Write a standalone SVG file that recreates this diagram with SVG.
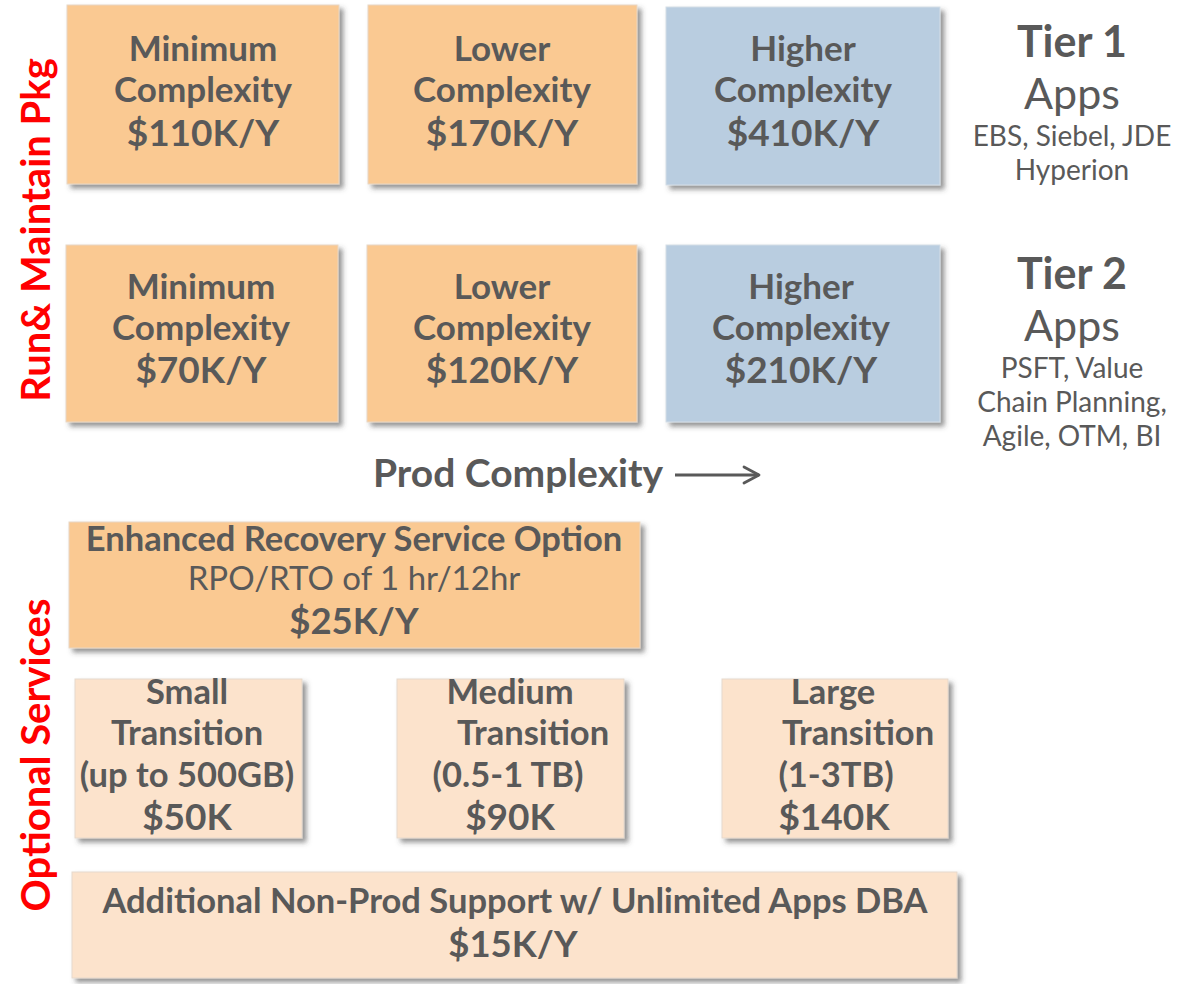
<svg xmlns="http://www.w3.org/2000/svg" width="1198" height="984" viewBox="0 0 1198 984">
  <defs>
    <filter id="shadow" x="-10%" y="-10%" width="125%" height="130%">
      <feDropShadow dx="4" dy="4" stdDeviation="2.5" flood-color="#404040" flood-opacity="0.55"/>
    </filter>
    <marker id="open-arrow" viewBox="0 0 20 20" refX="17" refY="10" markerWidth="20" markerHeight="20" markerUnits="userSpaceOnUse" orient="auto">
      <path d="M2,2 L17,10 L2,18" fill="none" stroke="#595959" stroke-width="2.8" stroke-linecap="round" stroke-linejoin="round"/>
    </marker>
  </defs>
  <style>
    text { font-family: Lato, "Open Sans", "Liberation Sans", sans-serif; fill: #595959; text-anchor: middle; }
    .b { font-weight: 700; }
    .hd { font-size: 35px; font-weight: 700; }
    .price { font-size: 37px; font-weight: 700; }
    .side { font-size: 40px; font-weight: 700; fill: #ff0000; }
    .orange { fill: #fac992; stroke: #e8d6c4; stroke-width: 1; filter: url(#shadow); }
    .blue { fill: #b9cde0; stroke: #d4dde6; stroke-width: 1; filter: url(#shadow); }
    .peach { fill: #fce3cc; stroke: #e6d9cd; stroke-width: 1; filter: url(#shadow); }
    .tier { font-size: 43px; font-weight: 700; }
    .apps { font-size: 43px; }
    .list { font-size: 28px; }
    .tr { font-size: 34.5px; font-weight: 700; }
    .trp { font-size: 37px; font-weight: 700; }
  </style>

  <rect width="1198" height="984" fill="#ffffff"/>

  <!-- side captions -->
  <g id="label-run-maintain">
    <text class="side" transform="translate(50,230) rotate(-90)">Run&amp; Maintain Pkg</text>
  </g>
  <g id="label-optional">
    <text class="side" transform="translate(50,755) rotate(-90)">Optional Services</text>
  </g>

  <!-- Tier 1 row -->
  <g id="t1-min">
    <rect class="orange" x="67" y="5" width="272" height="179"/>
    <text class="hd" x="203" y="61">Minimum</text>
    <text class="hd" x="203" y="102">Complexity</text>
    <text class="price" x="203" y="146">$110K/Y</text>
  </g>
  <g id="t1-lower">
    <rect class="orange" x="368" y="5" width="269" height="179"/>
    <text class="hd" x="502" y="61">Lower</text>
    <text class="hd" x="502" y="102">Complexity</text>
    <text class="price" x="502" y="146">$170K/Y</text>
  </g>
  <g id="t1-higher">
    <rect class="blue" x="666" y="7" width="274" height="178"/>
    <text class="hd" x="803" y="61">Higher</text>
    <text class="hd" x="803" y="102">Complexity</text>
    <text class="price" x="803" y="146">$410K/Y</text>
  </g>
  <g id="tier1">
    <text class="tier" x="1072" y="57">Tier 1</text>
    <text class="apps" x="1072" y="109">Apps</text>
    <text class="list" x="1072" y="146">EBS, Siebel, JDE</text>
    <text class="list" x="1072" y="180">Hyperion</text>
  </g>

  <!-- Tier 2 row -->
  <g id="t2-min">
    <rect class="orange" x="66" y="245" width="272" height="177"/>
    <text class="hd" x="201" y="299">Minimum</text>
    <text class="hd" x="201" y="340">Complexity</text>
    <text class="price" x="201" y="383">$70K/Y</text>
  </g>
  <g id="t2-lower">
    <rect class="orange" x="367" y="245" width="270" height="177"/>
    <text class="hd" x="502" y="299">Lower</text>
    <text class="hd" x="502" y="340">Complexity</text>
    <text class="price" x="502" y="383">$120K/Y</text>
  </g>
  <g id="t2-higher">
    <rect class="blue" x="666" y="245" width="274" height="177"/>
    <text class="hd" x="801" y="299">Higher</text>
    <text class="hd" x="801" y="340">Complexity</text>
    <text class="price" x="801" y="383">$210K/Y</text>
  </g>
  <g id="tier2">
    <text class="tier" x="1072" y="289">Tier 2</text>
    <text class="apps" x="1072" y="341">Apps</text>
    <text class="list" x="1072" y="378">PSFT, Value</text>
    <text class="list" x="1072" y="412">Chain Planning,</text>
    <text class="list" x="1072" y="446">Agile, OTM, BI</text>
  </g>

  <!-- complexity axis -->
  <g id="axis-label">
    <text class="b" x="518" y="487" style="font-size:39px">Prod Complexity</text>
  </g>
  <g id="connectors">
    <line x1="675" y1="475" x2="759" y2="475" stroke="#595959" stroke-width="2.8" marker-end="url(#open-arrow)"/>
  </g>

  <!-- optional services -->
  <g id="enhanced-recovery">
    <rect class="orange" x="69" y="522" width="571" height="126"/>
    <text class="b" x="354" y="551" style="font-size:34.5px">Enhanced Recovery Service Option</text>
    <text x="354" y="590" style="font-size:33px">RPO/RTO of 1 hr/12hr</text>
    <text class="price" x="354" y="634" style="font-size:36.5px">$25K/Y</text>
  </g>

  <g id="small-transition">
    <rect class="peach" x="75" y="679" width="227" height="159"/>
    <text class="tr" x="187" y="704">Small</text>
    <text class="tr" x="187" y="745">Transition</text>
    <text class="tr" x="187" y="787">(up to 500GB)</text>
    <text class="trp" x="187" y="830">$50K</text>
  </g>
  <g id="medium-transition">
    <rect class="peach" x="397" y="679" width="227" height="159"/>
    <text class="tr" x="510" y="704">Medium</text>
    <text class="tr" x="533" y="745">Transition</text>
    <text class="tr" x="508" y="787">(0.5-1 TB)</text>
    <text class="trp" x="510" y="830">$90K</text>
  </g>
  <g id="large-transition">
    <rect class="peach" x="722" y="679" width="226" height="159"/>
    <text class="tr" x="833" y="704">Large</text>
    <text class="tr" x="858" y="745">Transition</text>
    <text class="tr" x="836" y="787">(1-3TB)</text>
    <text class="trp" x="834" y="830">$140K</text>
  </g>

  <g id="non-prod-support">
    <rect class="peach" x="72" y="872" width="885" height="106"/>
    <text class="b" x="515" y="913" style="font-size:34.5px">Additional Non-Prod Support w/ Unlimited Apps DBA</text>
    <text class="price" x="513" y="957" style="font-size:36.5px">$15K/Y</text>
  </g>
</svg>
